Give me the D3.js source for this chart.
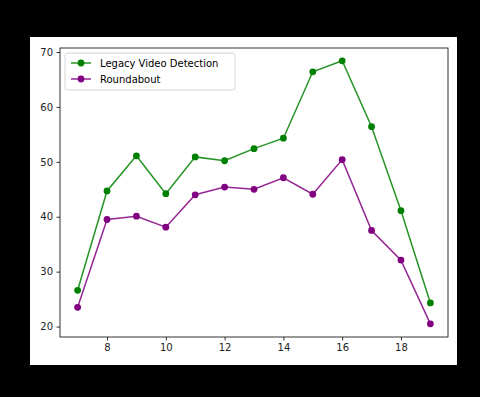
<!DOCTYPE html>
<html>
<head>
<meta charset="utf-8">
<script src="https://cdn.jsdelivr.net/npm/d3@7"></script>
<style>
  html, body { margin: 0; padding: 0; background: #000; }
  svg { display: block; font-family: "DejaVu Sans", sans-serif; }
</style>
</head>
<body>
<div id="chart"></div>
<script>
const hours = [7, 8, 9, 10, 11, 12, 13, 14, 15, 16, 17, 18, 19];
const legacyValues = [26.6, 44.7, 51.1, 44.2, 50.9, 50.2, 52.4, 54.3, 66.4, 68.4, 56.4, 41.1, 24.3];
const roundaboutValues = [23.5, 39.5, 40.1, 38.1, 44.0, 45.4, 45.0, 47.1, 44.1, 50.4, 37.5, 32.1, 20.5];
const xTicks = [8, 10, 12, 14, 16, 18];
const yTicks = [20, 30, 40, 50, 60, 70];

const series = [
  { name: 'Legacy Video Detection', values: legacyValues, color: 'green' },
  { name: 'Roundabout', values: roundaboutValues, color: 'purple' },
];

const width = 480;
const height = 397;
const margin = { top: 48, right: 32, bottom: 60, left: 60 };

const svg = d3.select('#chart')
  .append('svg')
  .attr('width', width)
  .attr('height', height);

// white figure area
svg.append('rect')
  .attr('x', 30).attr('y', 37)
  .attr('width', 427).attr('height', 328)
  .attr('fill', '#fff');

const x = d3.scaleLinear()
  .domain([6.4, 19.6])
  .range([margin.left, width - margin.right]);

const y = d3.scaleLinear()
  .domain([18.1, 70.73])
  .range([height - margin.bottom, margin.top]);

const xAxis = (g) => g
  .attr('transform', `translate(0, ${height - margin.bottom})`)
  .call(d3.axisBottom(x).tickValues(xTicks).tickSize(3.5).tickPadding(3.5));

const yAxis = (g) => g
  .attr('transform', `translate(${margin.left}, 0)`)
  .call(d3.axisLeft(y).tickValues(yTicks).tickSize(3.5).tickPadding(3.5));

[xAxis, yAxis].forEach((axis) => {
  svg.append('g')
    .call(axis)
    .call((g) => g.select('.domain').remove())
    .call((g) => g.selectAll('.tick line').attr('stroke', '#000').attr('stroke-width', 0.8))
    .call((g) => g.selectAll('.tick text')
      .attr('fill', '#222')
      .style('font-size', '10px')
      .style('font-family', '"DejaVu Sans", sans-serif'));
});

// spines
svg.append('rect')
  .attr('x', x.range()[0]).attr('y', y.range()[1])
  .attr('width', x.range()[1] - x.range()[0])
  .attr('height', y.range()[0] - y.range()[1])
  .attr('fill', 'none')
  .attr('stroke', '#000')
  .attr('stroke-width', 0.8);

const line = d3.line()
  .x((d, i) => x(hours[i]))
  .y((d) => y(d));

series.forEach((s) => {
  svg.append('path')
    .datum(s.values)
    .attr('fill', 'none')
    .attr('stroke', s.color)
    .attr('stroke-opacity', 0.85)
    .attr('stroke-width', 1.5)
    .attr('d', line);

  svg.append('g')
    .selectAll('circle')
    .data(s.values)
    .join('circle')
    .attr('cx', (d, i) => x(hours[i]))
    .attr('cy', (d) => y(d))
    .attr('r', 3.4)
    .attr('fill', s.color);
});

// legend
const legend = svg.append('g')
  .attr('transform', `translate(${x.range()[0] + 5}, ${y.range()[1] + 5})`);

legend.append('rect')
  .attr('width', 170).attr('height', 37)
  .attr('rx', 2.5)
  .attr('fill', '#fff')
  .attr('fill-opacity', 0.8)
  .attr('stroke', '#ccc')
  .attr('stroke-width', 0.8);

series.forEach((s, i) => {
  const row = legend.append('g')
    .attr('transform', `translate(0, ${10 + i * 16})`);
  row.append('line')
    .attr('x1', 6).attr('x2', 26)
    .attr('stroke', s.color)
    .attr('stroke-opacity', 0.85)
    .attr('stroke-width', 1.5);
  row.append('circle')
    .attr('cx', 16).attr('r', 3.4)
    .attr('fill', s.color);
  row.append('text')
    .attr('x', 35).attr('dy', '0.35em')
    .style('font-size', '10px')
    .attr('fill', '#000')
    .text(s.name);
});
</script>
</body>
</html>
